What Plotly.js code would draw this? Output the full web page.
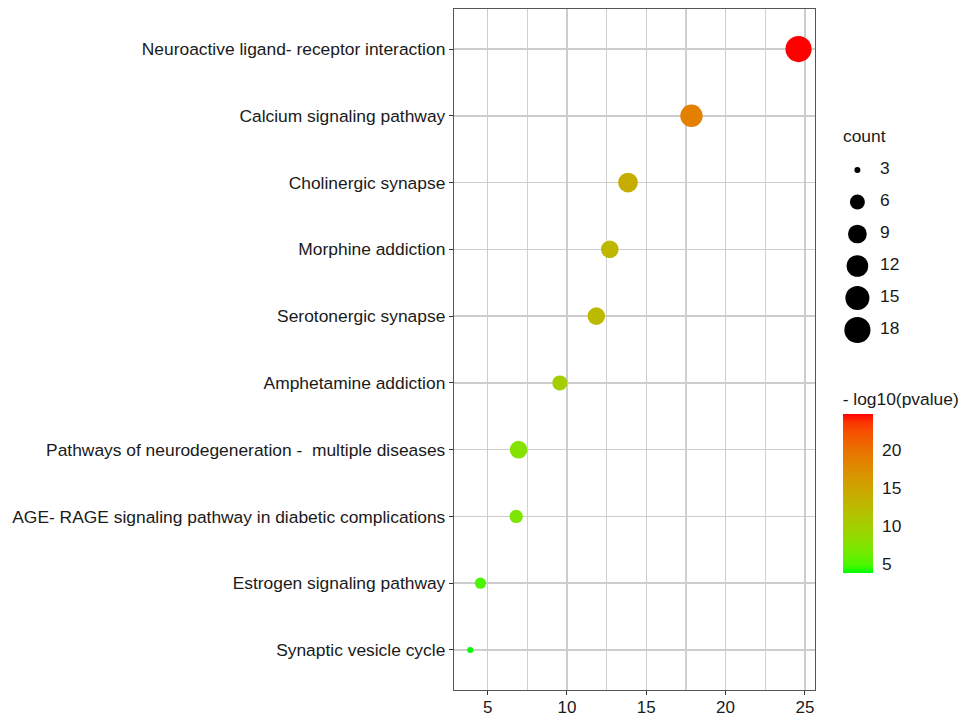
<!DOCTYPE html>
<html>
<head>
<meta charset="utf-8">
<script src="https://cdn.plot.ly/plotly-3.0.1.min.js"></script>
<style>html,body{margin:0;padding:0;background:#fff;}#chart{width:963px;height:718px;}</style>
</head>
<body>
<div id="chart"></div>
<script>
// ---- data (top row first) ----
var terms = [
  "Neuroactive ligand- receptor interaction",
  "Calcium signaling pathway",
  "Cholinergic synapse",
  "Morphine addiction",
  "Serotonergic synapse",
  "Amphetamine addiction",
  "Pathways of neurodegeneration -\u00a0 multiple diseases",
  "AGE- RAGE signaling pathway in diabetic complications",
  "Estrogen signaling pathway",
  "Synaptic vesicle cycle"
];
var richFactor = [24.6, 17.85, 13.85, 12.7, 11.85, 9.55, 6.95, 6.8, 4.55, 3.9];
var counts = [18, 13, 10, 8, 8, 6, 8, 5, 4, 3];
var logP = [24.64, 18.6, 14.0, 13.0, 12.5, 10.2, 7.6, 7.2, 4.9, 3.83];
var countBreaks = [3, 6, 9, 12, 15, 18];
var xTicks = [5, 10, 15, 20, 25];
var colorTicks = [5, 10, 15, 20];

// ---- helpers ----
function sizeOf(c){ return 6 + 5.2*Math.sqrt(Math.max(c-3,0)); }
function lin(c){c/=255;return c<=0.04045?c/12.92:Math.pow((c+0.055)/1.055,2.4);}
function gam(c){c=c<=0.0031308?12.92*c:1.055*Math.pow(c,1/2.4)-0.055;return Math.round(Math.min(1,Math.max(0,c))*255);}
function f(t){return t>0.008856?Math.cbrt(t):7.787*t+16/116;}
function finv(t){var t3=t*t*t;return t3>0.008856?t3:(t-16/116)/7.787;}
function toLab(rgb){
  var r=lin(rgb[0]),g=lin(rgb[1]),b=lin(rgb[2]);
  var X=(0.4124*r+0.3576*g+0.1805*b)/0.95047,Y=0.2126*r+0.7152*g+0.0722*b,Z=(0.0193*r+0.1192*g+0.9505*b)/1.08883;
  var fx=f(X),fy=f(Y),fz=f(Z);
  return [116*fy-16,500*(fx-fy),200*(fy-fz)];
}
function fromLab(l){
  var fy=(l[0]+16)/116,fx=fy+l[1]/500,fz=fy-l[2]/200;
  var X=finv(fx)*0.95047,Y=finv(fy),Z=finv(fz)*1.08883;
  var r=3.2406*X-1.5372*Y-0.4986*Z,g=-0.9689*X+1.8758*Y+0.0415*Z,b=0.0557*X-0.2040*Y+1.0570*Z;
  return 'rgb('+gam(r)+','+gam(g)+','+gam(b)+')';
}
var lowLab=toLab([0,255,0]), highLab=toLab([255,0,0]);
var cscale=[];
for(var i=0;i<=20;i++){var t=i/20;cscale.push([t,fromLab([lowLab[0]+(highLab[0]-lowLab[0])*t,lowLab[1]+(highLab[1]-lowLab[1])*t,lowLab[2]+(highLab[2]-lowLab[2])*t])]);}

var FONT="Liberation Sans, Arial, Helvetica, sans-serif";
var FS=17.4;
var L=454, R=4, T=9, B=28, W=963, H=718;
var pw=W-L-R, ph=H-T-B;
function px2x(p){return (p-L)/pw;}
function py2y(p){return (H-B-p)/ph;}

var main={
  type:'scatter', mode:'markers', x:richFactor, y:terms, xaxis:'x', yaxis:'y',
  marker:{size:counts.map(sizeOf), color:logP, colorscale:cscale, cmin:Math.min.apply(null,logP), cmax:Math.max.apply(null,logP),
    line:{width:0}, opacity:1,
    colorbar:{x:px2x(845), xanchor:'left', xpad:0, ypad:0, y:py2y(573), yanchor:'bottom', len:184, lenmode:'pixels', thickness:30, thicknessmode:'pixels',
      outlinewidth:0, tickvals:colorTicks, ticks:'outside', ticklen:6, tickcolor:'rgba(255,255,255,0)', tickwidth:1,
      tickfont:{family:FONT,size:FS,color:'#1a1a1a'},
      title:{text:'- log10(pvalue)', side:'top', font:{family:FONT,size:FS,color:'#1a1a1a'}}}},
  hoverinfo:'x+y', showlegend:false
};
var legDots={
  type:'scatter', mode:'markers', x:countBreaks.map(function(){return 0;}), y:countBreaks, xaxis:'x2', yaxis:'y2',
  marker:{size:countBreaks.map(sizeOf), color:'rgb(0,0,0)', opacity:1, line:{width:0}}, opacity:1, showlegend:false, hoverinfo:'skip'
};
var legText={
  type:'scatter', mode:'text', x:countBreaks.map(function(){return 1.2;}), y:countBreaks, xaxis:'x2', yaxis:'y2',
  text:countBreaks.map(String), textposition:'middle right', textfont:{family:FONT,size:FS,color:'#1a1a1a'}, showlegend:false, hoverinfo:'skip'
};

var layout={
  width:W, height:H, margin:{l:L, r:R, t:T, b:B}, paper_bgcolor:'#fff', plot_bgcolor:'#fff',
  font:{family:FONT, color:'#1a1a1a'},
  xaxis:{domain:[0,(816-L)/pw], range:[2.88,25.61], tickvals:xTicks, ticks:'outside', ticklen:4, tickcolor:'#333', tickwidth:1,
    ticklabelstandoff:-3,
    showline:true, mirror:true, linecolor:'#555', linewidth:1.2, showgrid:true, gridcolor:'#cdcdcd', gridwidth:1.5, zeroline:false,
    tickfont:{family:FONT,size:17,color:'#1a1a1a'},
    minor:{dtick:2.5, tick0:0, showgrid:true, gridcolor:'#d0d0d0', gridwidth:1.3, ticks:''}},
  yaxis:{type:'category', categoryorder:'array', categoryarray:terms, range:[9.6,-0.6], ticks:'outside', ticklen:4, tickcolor:'#333', tickwidth:1,
    showline:true, mirror:true, linecolor:'#555', linewidth:1.2, showgrid:true, gridcolor:'#cdcdcd', gridwidth:1.5, zeroline:false,
    tickfont:{family:FONT,size:FS,color:'#1a1a1a'}, automargin:false},
  xaxis2:{domain:[px2x(840),px2x(940)], range:[-1,4.263], visible:false, fixedrange:true, anchor:'y2'},
  yaxis2:{domain:[py2y(350),py2y(150)], range:[19.875,1.125], visible:false, fixedrange:true, anchor:'x2'},
  annotations:[{text:'count', xref:'paper', yref:'paper', x:px2x(843), y:py2y(136), xanchor:'left', yanchor:'middle', showarrow:false,
    font:{family:FONT,size:FS,color:'#1a1a1a'}}]
};
Plotly.newPlot('chart',[main,legDots,legText],layout,{displayModeBar:false, staticPlot:true});
</script>
</body>
</html>
